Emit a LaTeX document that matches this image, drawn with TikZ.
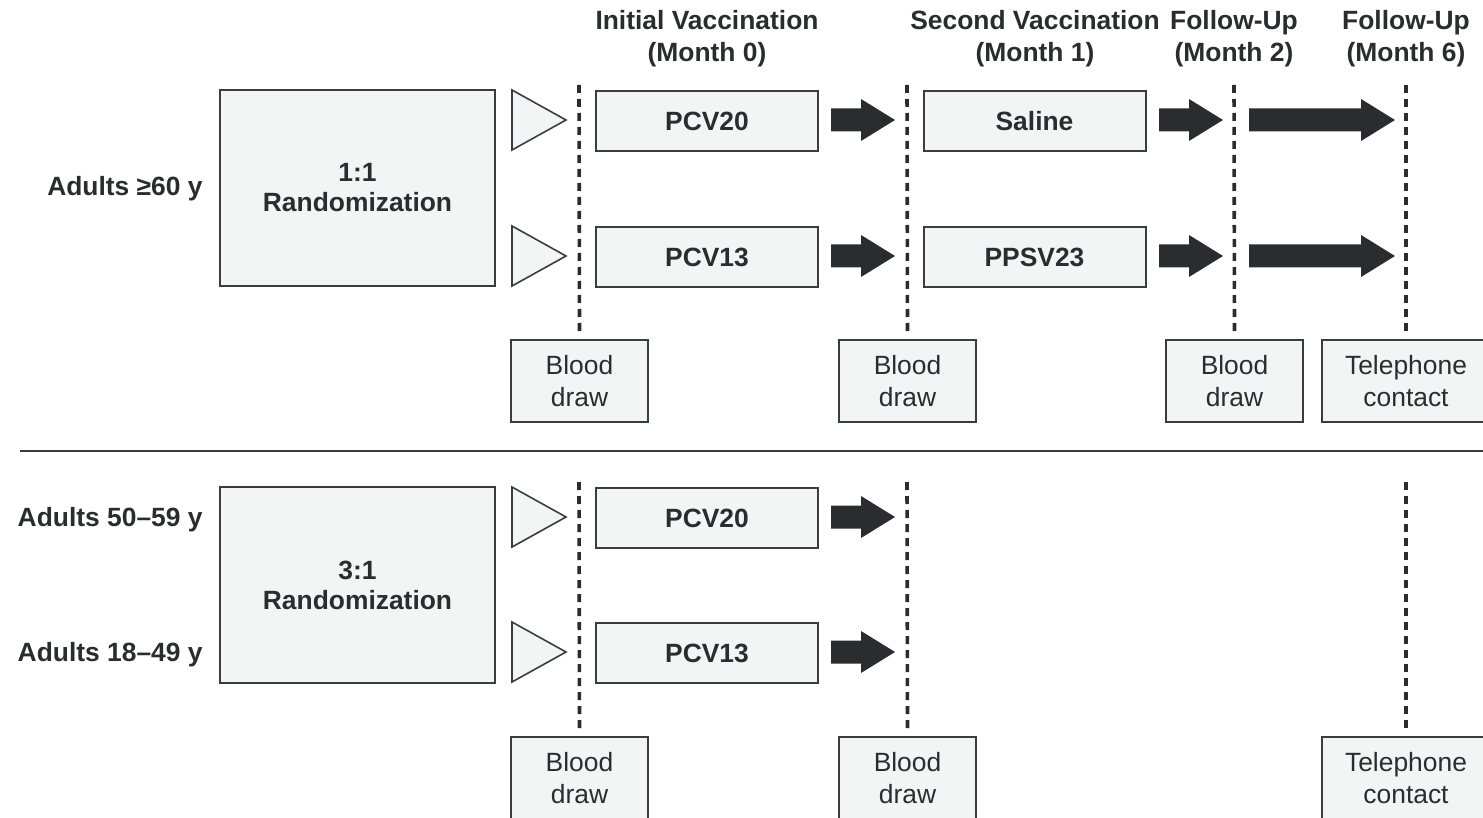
\documentclass[tikz,border=0pt]{standalone}
\usepackage{fontspec}
\setmainfont{Liberation Sans}
\definecolor{boxfill}{HTML}{F3F4F4}
\definecolor{boxline}{HTML}{3B3C40}
\definecolor{ink}{HTML}{2B2C30}

% block arrow: x start, x tip, y
\newcommand{\blockarrow}[3]{%
  \fill[ink] (#1,#3-11.5) -- (#2-34,#3-11.5) -- (#2-34,#3-21) -- (#2,#3)
    -- (#2-34,#3+21) -- (#2-34,#3+11.5) -- (#1,#3+11.5) -- cycle;}
% open triangle pointing at the first timeline
\newcommand{\starttri}[1]{%
  \draw[boxline, fill=boxfill, line width=0.8pt] (512,#1-30) -- (566,#1) -- (512,#1+30) -- cycle;}

\begin{document}
\begin{tikzpicture}[x=0.5pt, y=-0.5pt,
    font=\fontsize{13.2}{15.6}\selectfont, text=ink,
    randbox/.style={rectangle, draw=boxline, fill=boxfill, line width=1pt, minimum width=137.5pt, minimum height=98pt, align=center, font=\fontsize{13.2}{15}\selectfont\bfseries},
    vacbox/.style={rectangle, draw=boxline, fill=boxfill, line width=1pt, minimum width=111pt, minimum height=30pt, font=\fontsize{13.2}{15.6}\selectfont\bfseries},
    drawbox/.style={rectangle, draw=boxline, fill=boxfill, line width=1pt, minimum width=68.5pt, minimum height=41pt, align=center},
    callbox/.style={drawbox, minimum width=84pt},
    header/.style={align=center, font=\fontsize{13.2}{16}\selectfont\bfseries},
    group/.style={anchor=east, inner sep=0pt, font=\fontsize{13.2}{15.6}\selectfont\bfseries},
    timeline/.style={draw=ink, line width=1.8pt, dash pattern=on 4pt off 3pt}]

    \useasboundingbox (0,0) rectangle (1483,818);
    \clip (0,0) rectangle (1483,818);

    % headers
    \node[header] (h0) at (707,39) {Initial Vaccination\\(Month 0)};
    \node[header] (h1) at (1035,39) {Second Vaccination\\(Month 1)};
    \node[header] (h2) at (1234,39) {Follow-Up\\(Month 2)};
    \node[header] (h6) at (1406,39) {Follow-Up\\(Month 6)};

    % upper cohort
    \node[group] (old) at (203,189) {Adults ≥60 y};
    \node[randbox] (rand1) at (357.5,188) {1:1\\Randomization};
    \node[vacbox] (pcv20a) at (707,121) {PCV20};
    \node[vacbox] (pcv13a) at (707,257) {PCV13};
    \node[vacbox] (saline) at (1034.5,121) {Saline};
    \node[vacbox] (ppsv) at (1034.5,257) {PPSV23};
    \node[drawbox] (blood0a) at (579.5,381) {Blood\\draw};
    \node[drawbox] (blood1a) at (907.5,381) {Blood\\draw};
    \node[drawbox] (blood2a) at (1234.5,381) {Blood\\draw};
    \node[callbox] (call6a) at (1406,381) {Telephone\\contact};

    \coordinate (t0a) at (579,85);
    \coordinate (t1a) at (907,85);
    \coordinate (t2a) at (1234,85);
    \coordinate (t6a) at (1406,85);
    \draw[timeline] (t0a) -- ([yshift=2pt]blood0a.north);
    \draw[timeline] (t1a) -- ([yshift=2pt]blood1a.north);
    \draw[timeline] (t2a) -- ([yshift=2pt]blood2a.north);
    \draw[timeline] (t6a) -- ([yshift=2pt]call6a.north);

    \starttri{120}
    \starttri{256}
    \blockarrow{831}{895}{120}
    \blockarrow{831}{895}{256}
    \blockarrow{1159}{1223}{120}
    \blockarrow{1159}{1223}{256}
    \blockarrow{1249}{1395}{120}
    \blockarrow{1249}{1395}{256}

    % separator
    \coordinate (sepl) at (20,451);
    \coordinate (sepr) at (1490,451);
    \draw[boxline, line width=1pt] (sepl) -- (sepr);

    % lower cohorts
    \node[group] (mid) at (203,520) {Adults 50–59 y};
    \node[group] (young) at (203,655) {Adults 18–49 y};
    \node[randbox] (rand2) at (357.5,585) {3:1\\Randomization};
    \node[vacbox] (pcv20b) at (707,518) {PCV20};
    \node[vacbox] (pcv13b) at (707,653) {PCV13};
    \node[drawbox] (blood0b) at (579.5,778) {Blood\\draw};
    \node[drawbox] (blood1b) at (907.5,778) {Blood\\draw};
    \node[callbox] (call6b) at (1406,778) {Telephone\\contact};

    \coordinate (t0b) at (579,482);
    \coordinate (t1b) at (907,482);
    \coordinate (t6b) at (1406,482);
    \draw[timeline] (t0b) -- ([yshift=2pt]blood0b.north);
    \draw[timeline] (t1b) -- ([yshift=2pt]blood1b.north);
    \draw[timeline] (t6b) -- ([yshift=2pt]call6b.north);

    \starttri{517}
    \starttri{652}
    \blockarrow{831}{895}{517}
    \blockarrow{831}{895}{652}
\end{tikzpicture}
\end{document}
